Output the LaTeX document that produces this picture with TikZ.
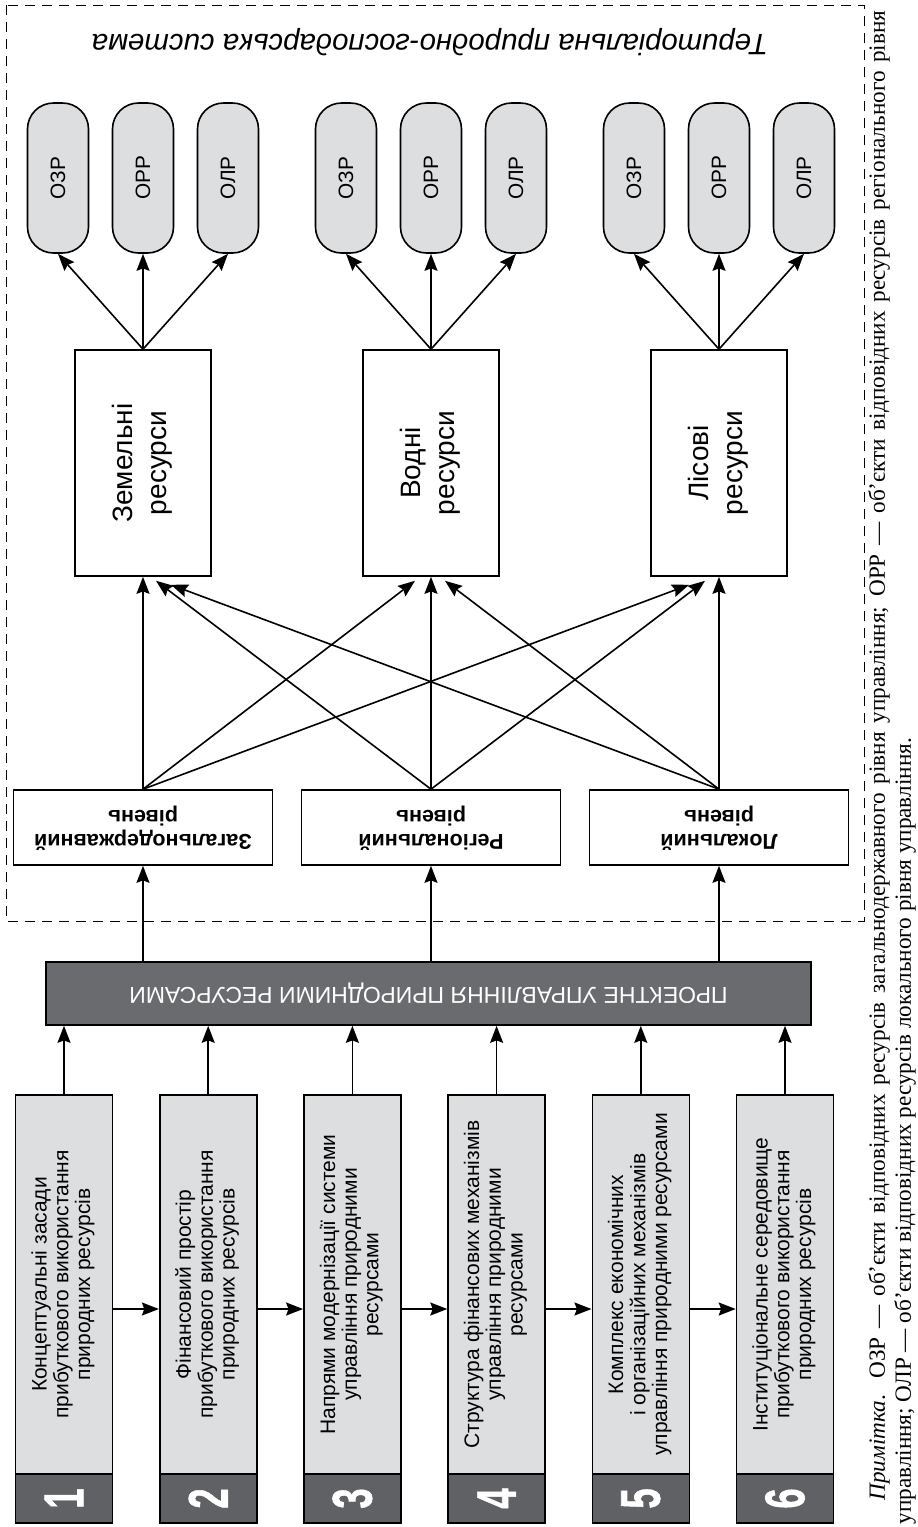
\documentclass[tikz,border=0pt]{standalone}
\usepackage{fontspec}
\setmainfont{Liberation Serif}
\setsansfont{Liberation Sans}
\newfontfamily\numfont[BoldFeatures={FakeBold=1.2}]{Liberation Sans}
\usetikzlibrary{arrows.meta,calc}
\definecolor{lightgr}{RGB}{221,222,224}
\definecolor{bargr}{RGB}{106,107,111}
\definecolor{numgr}{RGB}{96,97,101}
\newcommand{\vtext}[1]{\rotatebox{90}{\begin{tabular}{@{}c@{}}#1\end{tabular}}}
\newcommand{\utext}[1]{\rotatebox{180}{\begin{tabular}{@{}c@{}}#1\end{tabular}}}

\begin{document}
\begin{tikzpicture}[x=0.5pt,y=-0.5pt,line width=0.8pt,>={Stealth[length=8.5pt,width=6.5pt,inset=1.2pt]}]
\tikzset{
  ozrbox/.style={draw,fill=lightgr,rounded corners=13pt,minimum width=30.5pt,minimum height=75pt,inner sep=0pt,font=\sffamily\fontsize{10.4}{12}\selectfont},
  resbox/.style={draw,fill=white,minimum width=68pt,minimum height=113pt,inner sep=0pt,font=\sffamily\fontsize{14}{17}\selectfont},
  levelbox/.style={draw,fill=white,minimum width=129.5pt,minimum height=37.5pt,inner sep=0pt,font=\sffamily\bfseries\fontsize{10.75}{12}\selectfont},
  barbox/.style={draw,fill=bargr,text=white,minimum width=382.5pt,minimum height=31.5pt,inner sep=0pt,font=\sffamily\fontsize{11.5}{13}\selectfont},
  stepbox/.style={draw,fill=lightgr,minimum width=48.5pt,minimum height=189.5pt,inner sep=0pt,font=\sffamily\fontsize{10.5}{10.85}\selectfont},
  numbox/.style={draw,fill=numgr,text=white,minimum width=48.5pt,minimum height=24.5pt,inner sep=0pt,font=\numfont\bfseries\fontsize{28}{28}\selectfont}
}
\useasboundingbox (0,0) rectangle (917,1527);
\draw [line width=0.5pt,dash pattern=on 5pt off 3.5pt] (6,5) rectangle (864,921);
\node [font=\sffamily\itshape\fontsize{14.7}{18}\selectfont] (title) at (430,42) {\rotatebox{180}{Територіальна природно-господарська система}};

% resources and objects
\node [resbox] (zem) at (143,463) {\vtext{Земельні\\ресурси}};
\node [resbox] (vod) at (431,463) {\vtext{Водні\\ресурси}};
\node [resbox] (lis) at (719,463) {\vtext{Лісові\\ресурси}};
\foreach \r/\x in {zem/143,vod/431,lis/719}{
  \node [ozrbox] (\r-a) at (\x-85,178) {\rotatebox{90}{ОЗР}};
  \node [ozrbox] (\r-b) at (\x,178) {\rotatebox{90}{ОРР}};
  \node [ozrbox] (\r-c) at (\x+85,178) {\rotatebox{90}{ОЛР}};
  \foreach \o in {a,b,c}
    \draw [->] (\r.north) -- (\r-\o.south);
}

% levels
\node [levelbox] (zag) at (143,827.5) {\utext{Загальнодержавний\\рівень}};
\node [levelbox] (reg) at (431,827.5) {\utext{Регіональний\\рівень}};
\node [levelbox] (lok) at (719,827.5) {\utext{Локальний\\рівень}};
\draw [->] (zag.north) -- (zem.south);
\draw [->] (zag.north) -- ($(vod.south)+(-16,4)$);
\draw [->] (zag.north) -- ($(lis.south)+(-30,8)$);
\draw [->] (reg.north) -- ($(zem.south)+(13,4)$);
\draw [->] (reg.north) -- (vod.south);
\draw [->] (reg.north) -- ($(lis.south)+(-14,4)$);
\draw [->] (lok.north) -- ($(zem.south)+(28,8)$);
\draw [->] (lok.north) -- ($(vod.south)+(14,4)$);
\draw [->] (lok.north) -- (lis.south);

\node [barbox] (bar) at (428.5,993.5) {\rotatebox{180}{ПРОЕКТНЕ УПРАВЛІННЯ ПРИРОДНИМИ РЕСУРСАМИ}};
\foreach \l in {zag,reg,lok}
  \draw [->] (bar.north -| \l.south) -- (\l.south);

% steps
\node [stepbox] (s1) at (64,1284.5) {\vtext{Концептуальні засади\\прибуткового використання\\природних ресурсів}};
\node [stepbox] (s2) at (208.2,1284.5) {\vtext{Фінансовий простір\\прибуткового використання\\природних ресурсів}};
\node [stepbox] (s3) at (352.4,1284.5) {\vtext{Напрями модернізації системи\\управління природними\\ресурсами}};
\node [stepbox] (s4) at (496.6,1284.5) {\vtext{Структура фінансових механізмів\\управління природними\\ресурсами}};
\node [stepbox] (s5) at (640.8,1284.5) {\vtext{Комплекс економічних\\і організаційних механізмів\\управління природними ресурсами}};
\node [stepbox] (s6) at (785,1284.5) {\vtext{Інституціональне середовище\\прибуткового використання\\природних ресурсів}};
\foreach \i in {1,...,6}{
  \node [numbox] (n\i) at (s\i.south |- 0,1498.5) {\rotatebox{90}{\scalebox{0.65}[1]{\i}}};
  \draw [->] (s\i.north) -- (s\i.north |- bar.south);
}
\foreach \i [evaluate=\i as \j using int(\i+1)] in {1,...,5}
  \draw [->] ([yshift=-12.25pt]s\i.east) -- ([yshift=-12.25pt]s\j.west);

\node [rotate=90,text width=757pt,align=justify,inner sep=0pt,font=\fontsize{11.6}{13}\selectfont] (note) at (892,767.5)
  {\hspace*{12pt}\textit{Примітка}. ОЗР — об’єкти відповідних ресурсів загальнодержавного рівня управління; ОРР — об’єкти відповідних ресурсів регіонального рівня\linebreak управління; ОЛР — об’єкти відповідних ресурсів локального рівня управління.};
\end{tikzpicture}
\end{document}
